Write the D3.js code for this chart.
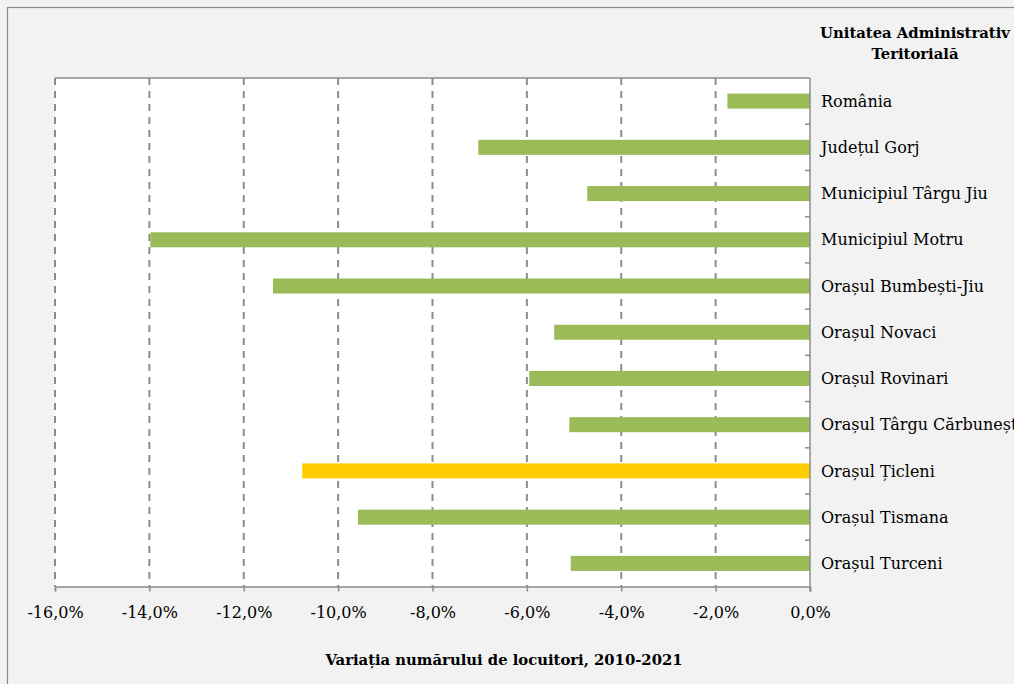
<!DOCTYPE html>
<html>
<head>
<meta charset="utf-8">
<script src="https://cdn.jsdelivr.net/npm/d3@7"></script>
<style>
  html, body { margin: 0; padding: 0; background: #f2f2f2; }
  svg { display: block; }
</style>
</head>
<body>
<div id="chart"></div>
<script>
// data (variation 2010-2021, %)
const categories = [
  "România",
  "Județul Gorj",
  "Municipiul Târgu Jiu",
  "Municipiul Motru",
  "Orașul Bumbești-Jiu",
  "Orașul Novaci",
  "Orașul Rovinari",
  "Orașul Târgu Cărbunești",
  "Orașul Țicleni",
  "Orașul Tismana",
  "Orașul Turceni"
];
const values = [-1.75, -7.03, -4.72, -13.98, -11.38, -5.42, -5.95, -5.10, -10.76, -9.58, -5.07];
const highlighted = ["Orașul Țicleni"];
const xTicks = [-16, -14, -12, -10, -8, -6, -4, -2, 0];
const headerLines = ["Unitatea Administrativ", "Teritorială"];
const xTitle = "Variația numărului de locuitori, 2010-2021";

const width = 1014, height = 684;
const plot = { left: 55, right: 810, top: 78, bottom: 586.5 };
const font = "'DejaVu Serif', serif";

const data = categories.map((c, i) => ({ name: c, value: values[i] }));

const svg = d3.select("#chart").append("svg")
  .attr("width", width)
  .attr("height", height)
  .style("font-family", font);

// outer frame
svg.append("rect")
  .attr("x", 7.5).attr("y", 7.5)
  .attr("width", width + 20).attr("height", height + 20)
  .attr("fill", "#f2f2f2")
  .attr("stroke", "#8c8c8c")
  .attr("stroke-width", 1.2);

const x = d3.scaleLinear().domain([-16, 0]).range([plot.left, plot.right]);
const y = d3.scaleBand()
  .domain(categories)
  .range([plot.top, plot.bottom])
  .paddingInner(0.675)
  .paddingOuter(0.3375);

// plot area
svg.append("rect")
  .attr("x", plot.left).attr("y", plot.top)
  .attr("width", plot.right - plot.left)
  .attr("height", plot.bottom - plot.top)
  .attr("fill", "#fff");

svg.append("line")
  .attr("x1", plot.left).attr("x2", plot.right)
  .attr("y1", plot.top).attr("y2", plot.top)
  .attr("stroke", "#8c8c8c").attr("stroke-width", 1.5);

// dashed gridlines
svg.append("g")
  .selectAll("line")
  .data(xTicks.filter((d) => d !== 0))
  .join("line")
  .attr("x1", (d) => x(d)).attr("x2", (d) => x(d))
  .attr("y1", plot.top).attr("y2", plot.bottom)
  .attr("stroke", "#8c8c8c")
  .attr("stroke-width", 2)
  .attr("stroke-dasharray", "7,6");

// bars
svg.append("g")
  .selectAll("rect")
  .data(data)
  .join("rect")
  .attr("x", (d) => x(d.value))
  .attr("y", (d) => y(d.name))
  .attr("width", (d) => x(0) - x(d.value))
  .attr("height", y.bandwidth())
  .attr("fill", (d) => (highlighted.includes(d.name) ? "#ffcc00" : "#9bbb59"));

// bottom axis
const xAxis = svg.append("g")
  .attr("transform", `translate(0,${plot.bottom})`)
  .call(
    d3.axisBottom(x)
      .tickValues(xTicks)
      .tickSize(5)
      .tickPadding(15)
      .tickFormat((d) => d3.format(".1f")(d).replace("−", "-").replace(".", ",") + "%")
  );
xAxis.select(".domain").attr("stroke", "#8c8c8c").attr("stroke-width", 1.5);
xAxis.selectAll(".tick line").attr("stroke", "#8c8c8c").attr("stroke-width", 1.5);
xAxis.selectAll(".tick text")
  .attr("fill", "#000")
  .style("font-family", font)
  .style("font-size", "16px");

// right category axis (ticks between categories)
const step = y.step();
const boundaries = d3.range(1, categories.length).map((i) => plot.top + i * step);
svg.append("line")
  .attr("x1", plot.right).attr("x2", plot.right)
  .attr("y1", plot.top).attr("y2", plot.bottom + 5)
  .attr("stroke", "#8c8c8c").attr("stroke-width", 1.5);
svg.append("g")
  .selectAll("line")
  .data(boundaries)
  .join("line")
  .attr("x1", plot.right - 5).attr("x2", plot.right)
  .attr("y1", (d) => d).attr("y2", (d) => d)
  .attr("stroke", "#8c8c8c").attr("stroke-width", 1.5);

// category labels (the long one runs past the right edge, as in the original)
svg.append("g")
  .selectAll("text")
  .data(categories)
  .join("text")
  .attr("x", plot.right + 11)
  .attr("y", (d) => y(d) + y.bandwidth() / 2)
  .attr("dy", "0.35em")
  .attr("font-size", 16)
  .attr("fill", "#000")
  .text((d) => d);

// header
svg.append("g")
  .selectAll("text")
  .data(headerLines)
  .join("text")
  .attr("x", 915)
  .attr("y", (d, i) => 38 + i * 21)
  .attr("text-anchor", "middle")
  .attr("font-size", 14.8)
  .attr("font-weight", "bold")
  .attr("fill", "#000")
  .text((d) => d);

// x title
svg.append("text")
  .attr("x", 504)
  .attr("y", 665)
  .attr("text-anchor", "middle")
  .attr("font-size", 14.8)
  .attr("font-weight", "bold")
  .attr("fill", "#000")
  .text(xTitle);
</script>
</body>
</html>
